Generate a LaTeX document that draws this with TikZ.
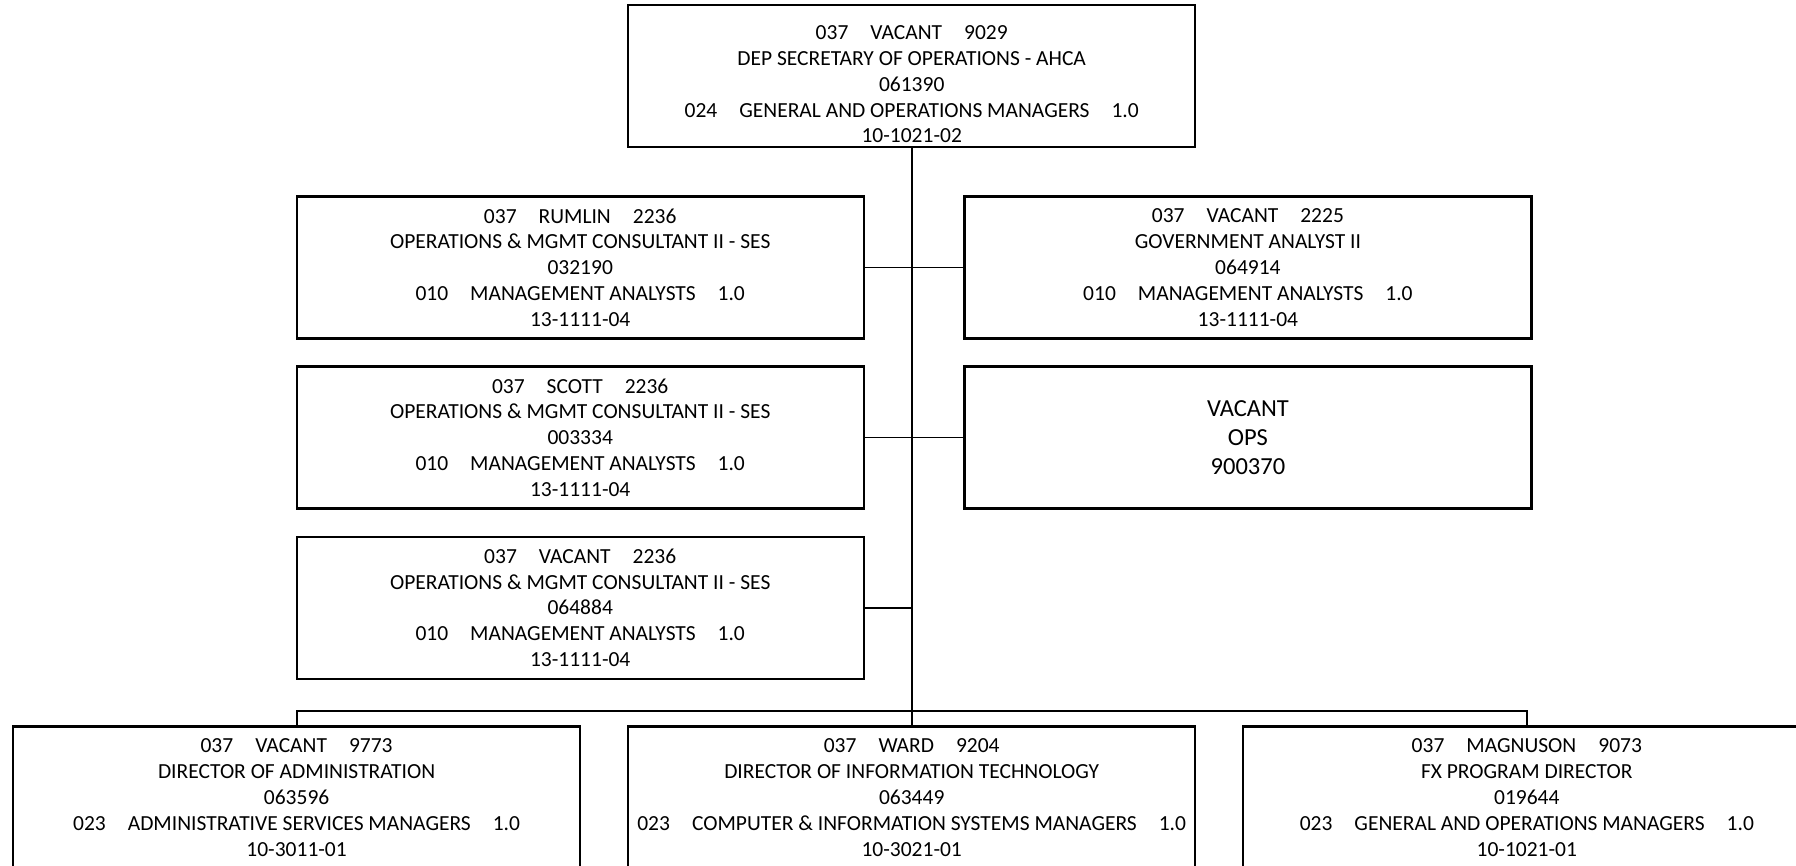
\documentclass[tikz,border=0pt]{standalone}
\usepackage{fontspec}
\setmainfont{Carlito}
\newcommand{\gapp}{\hspace{22pt}}
\begin{document}
\begin{tikzpicture}[x=1pt,y=-1pt,
  post/.style={draw=black, line width=2.2pt, fill=white, minimum width=567pt,
    minimum height=142pt, inner sep=0pt, align=center,
    font=\fontsize{21.5}{25.8}\selectfont},
  opsbox/.style={post, font=\fontsize{24.5}{28.7}\selectfont},
  link/.style={draw=black, line width=1.9pt}]
\useasboundingbox (0,0) rectangle (1796,866);
\clip (0,0) rectangle (1796,866);
\fill[white] (0,0) rectangle (1796,866);

% top position (text sits a little low in its box)
\node[post] (top) at (911.7,75.8) {\rule{0pt}{31pt}037\gapp VACANT\gapp 9029\\DEP SECRETARY OF OPERATIONS - AHCA\\061390\\024\gapp GENERAL AND OPERATIONS MANAGERS\gapp 1.0\\10-1021-02};

% staff positions
\node[post] (r1l) at (580.2,267.5) {037\gapp RUMLIN\gapp 2236\\OPERATIONS \& MGMT CONSULTANT II - SES\\032190\\010\gapp MANAGEMENT ANALYSTS\gapp 1.0\\13-1111-04};
\node[post] (r1r) at (1247.9,267.5) {037\gapp VACANT\gapp 2225\\GOVERNMENT ANALYST II\\064914\\010\gapp MANAGEMENT ANALYSTS\gapp 1.0\\13-1111-04};
\node[post] (r2l) at (580.2,437.5) {037\gapp SCOTT\gapp 2236\\OPERATIONS \& MGMT CONSULTANT II - SES\\003334\\010\gapp MANAGEMENT ANALYSTS\gapp 1.0\\13-1111-04};
\node[opsbox] (r2r) at (1247.9,437.5) {VACANT\\OPS\\900370};
\node[post] (r3l) at (580.2,607.7) {037\gapp VACANT\gapp 2236\\OPERATIONS \& MGMT CONSULTANT II - SES\\064884\\010\gapp MANAGEMENT ANALYSTS\gapp 1.0\\13-1111-04};

% directors
\node[post] (bl) at (296.6,797.5) {037\gapp VACANT\gapp 9773\\DIRECTOR OF ADMINISTRATION\\063596\\023\gapp ADMINISTRATIVE SERVICES MANAGERS\gapp 1.0\\10-3011-01};
\node[post] (bm) at (911.7,797.5) {037\gapp WARD\gapp 9204\\DIRECTOR OF INFORMATION TECHNOLOGY\\063449\\023\gapp COMPUTER \& INFORMATION SYSTEMS MANAGERS\gapp 1.0\\10-3021-01};
\node[post] (br) at (1526.8,797.5) {037\gapp MAGNUSON\gapp 9073\\FX PROGRAM DIRECTOR\\019644\\023\gapp GENERAL AND OPERATIONS MANAGERS\gapp 1.0\\10-1021-01};

\coordinate (bus) at (911.7,710.7);

% connectors
\draw[link] (top.south) -- (bm.north);
\draw[link] (r1l.east) -- (r1r.west);
\draw[link] (r2l.east) -- (r2r.west);
\draw[link] (r3l.east) -- (r3l.east -| top.south);
\draw[link] (bl.north) |- (bus) -| (br.north);
\end{tikzpicture}
\end{document}
